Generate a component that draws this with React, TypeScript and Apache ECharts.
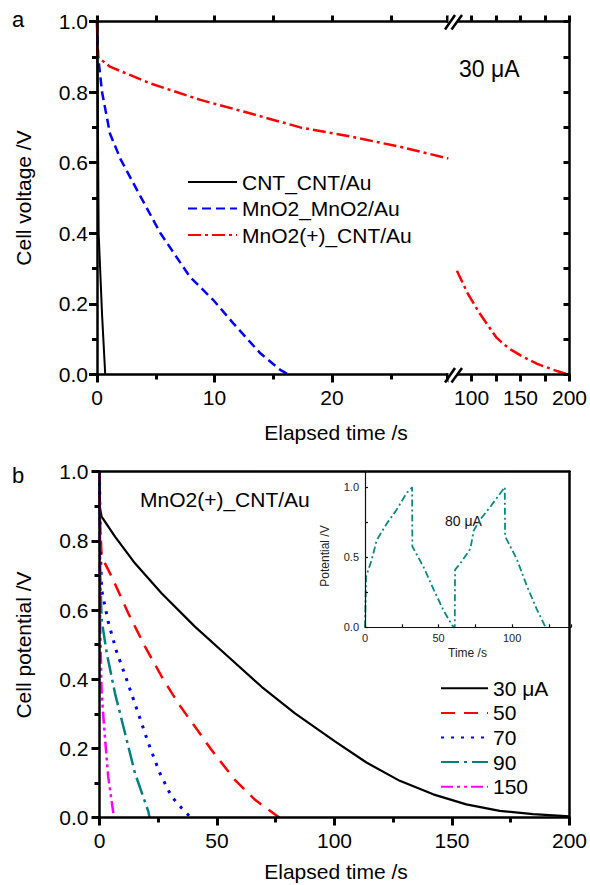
import React, { useEffect, useRef } from "react";
import * as echarts from "echarts";

const FONT = "'Liberation Sans', Arial, Helvetica, sans-serif";

// ---------- Panel a (30 uA) ----------
const aCntT = [0, 0.08, 0.14, 0.43, 0.7];
const aCntV = [1.0, 0.7, 0.4, 0.17, 0.0];
const aMnT = [0, 0.1, 0.43, 1.1, 2.0, 3.4, 5.4, 7.9, 9.9, 11.6, 13.9, 15.6, 16.3];
const aMnV = [1.0, 0.9, 0.8, 0.683, 0.61, 0.523, 0.4, 0.277, 0.211, 0.145, 0.06, 0.013, 0.0];
const aHybT1 = [0, 0.05, 1.1, 4.5, 8.8, 13.0, 17.3, 21.6, 25.8, 29.9];
const aHybV1 = [1.0, 0.9, 0.872, 0.825, 0.778, 0.74, 0.7, 0.674, 0.645, 0.612];
const aHybT2 = [85, 96, 108, 117, 125, 133, 141, 150, 159, 167, 176, 188, 199];
const aHybV2 = [0.294, 0.23, 0.174, 0.138, 0.106, 0.085, 0.069, 0.054, 0.041, 0.03, 0.021, 0.009, 0.0];
const aLegend = ["CNT_CNT/Au", "MnO2_MnO2/Au", "MnO2(+)_CNT/Au"];
const aRightLabels = [100, 150, 200];

// ---------- Panel b (MnO2(+)_CNT/Au) ----------
const b30T = [0, 0.1, 0.9, 6.6, 15.1, 26.5, 40.6, 54.8, 69, 83.2, 100.2, 113.6, 127.8, 142, 156.1, 170.3, 184.5, 200];
const b30V = [1.0, 0.899, 0.87, 0.812, 0.735, 0.648, 0.552, 0.465, 0.378, 0.301, 0.22, 0.159, 0.106, 0.067, 0.038, 0.019, 0.01, 0.003];
const b50T = [0, 0.2, 0.9, 5.2, 12.3, 19.4, 26.5, 33.5, 40.6, 47.7, 57.7, 66.2, 76.5];
const b50V = [1.0, 0.86, 0.754, 0.696, 0.59, 0.494, 0.407, 0.33, 0.263, 0.195, 0.108, 0.051, 0.0];
const b70T = [0, 0.3, 0.9, 3.7, 7.3, 11.6, 16.5, 20.8, 25.7, 30.7, 35, 38.8];
const b70V = [1.0, 0.8, 0.658, 0.566, 0.479, 0.398, 0.301, 0.215, 0.128, 0.06, 0.027, 0.0];
const b90T = [0, 0.3, 0.9, 3.1, 6.6, 10.9, 15.1, 20.8, 21.3];
const b90V = [1.0, 0.7, 0.571, 0.475, 0.359, 0.243, 0.128, 0.017, 0.0];
const b150T = [0, 0.3, 0.9, 2.3, 3.7, 5.9, 6.2];
const b150V = [1.0, 0.55, 0.359, 0.234, 0.118, 0.012, 0.0];
const bLegend = ["30 μA", "50", "70", "90", "150"];

// ---------- Inset (80 uA cycling) ----------
const inT = [0, 0.7, 4.5, 7.9, 14.8, 21.6, 28.4, 31.4, 32, 32.2, 39.8, 46.6, 53.4, 59.1, 60.5, 61, 61.2, 64.8, 71.6, 73.9, 78.4, 85.2, 94.3, 95, 95.2, 103.4, 110.2, 117.1, 122.7];
const inV = [0, 0.36, 0.48, 0.62, 0.74, 0.84, 0.96, 0.99, 1.0, 0.576, 0.43, 0.27, 0.12, 0.016, 0.0, 0.0, 0.41, 0.457, 0.56, 0.69, 0.77, 0.86, 0.99, 1.0, 0.65, 0.48, 0.29, 0.12, 0.0];

const zip = (t: number[], v: number[]) => t.map((x, i) => [x, v[i]]);

const AX = () => ({ color: "#000", width: 2.5 });
const TK = () => ({ color: "#000", width: 3 });

function buildOption(): any {
  const labelStyle = () => ({ fontSize: 21, color: "#000", fontFamily: FONT });
  const line = (name: string, xi: number, yi: number, data: number[][], color: string, width: number, type: any) => ({
    name,
    type: "line",
    xAxisIndex: xi,
    yAxisIndex: yi,
    data,
    clip: false,
    symbol: "none",
    showSymbol: false,
    lineStyle: { color, width, type },
    itemStyle: { color },
  });

  const yLeft = (gridIndex: number, margin: number) => ({
    type: "value",
    gridIndex,
    z: 20,
    position: "left",
    min: 0,
    max: 1,
    interval: 0.2,
    axisLine: { show: true, onZero: false, lineStyle: AX() },
    axisTick: { show: true, length: 8, lineStyle: TK() },
    minorTick: { show: true, splitNumber: 2, length: 5, lineStyle: TK() },
    axisLabel: { ...labelStyle(), margin, formatter: (v: number) => v.toFixed(1) },
    splitLine: { show: false },
  });

  const legendBase = {
    orient: "vertical",
    itemHeight: 14,
    padding: 0,
    selectedMode: false,
    itemStyle: { opacity: 0 },
    textStyle: { fontSize: 21, color: "#000", fontFamily: FONT, lineHeight: 21 },
  };

  const breakLine = (x1: number, y1: number, x2: number, y2: number) => ({
    type: "line",
    z: 100,
    shape: { x1, y1, x2, y2 },
    style: { stroke: "#000", lineWidth: 2.5 },
  });

  return {
    animation: false,
    grid: [
      { left: 97, top: 21.5, width: 352.5, height: 353 },
      { left: 447.1, top: 21.5, width: 123.9, height: 353 },
      { left: 99.5, top: 471.7, width: 471.5, height: 345.8 },
      { left: 365, top: 471.7, width: 206, height: 155.6 },
    ],
    xAxis: [
      {
        type: "value",
        gridIndex: 0,
        z: 20,
        min: 0,
        max: 30,
        interval: 10,
        axisLine: { show: true, onZero: false, lineStyle: AX() },
        axisTick: { show: true, length: 8, lineStyle: TK() },
        minorTick: { show: true, splitNumber: 2, length: 5, lineStyle: TK() },
        axisLabel: { ...labelStyle(), margin: 12, showMaxLabel: false },
        splitLine: { show: false },
      },
      {
        type: "value",
        gridIndex: 0,
        z: 20,
        position: "top",
        min: 0,
        max: 30,
        interval: 5,
        axisLine: { show: true, onZero: false, lineStyle: AX() },
        axisTick: { show: true, length: 6, lineStyle: TK() },
        axisLabel: { show: false },
        splitLine: { show: false },
      },
      {
        type: "value",
        gridIndex: 1,
        z: 20,
        min: 75,
        max: 200,
        interval: 25,
        axisLine: { show: true, onZero: false, lineStyle: AX() },
        axisTick: { show: true, length: 7, lineStyle: TK() },
        axisLabel: {
          ...labelStyle(),
          margin: 12,
          formatter: (v: number) => (aRightLabels.indexOf(v) >= 0 ? String(v) : ""),
        },
        splitLine: { show: false },
      },
      {
        type: "value",
        gridIndex: 1,
        z: 20,
        position: "top",
        min: 75,
        max: 200,
        interval: 25,
        axisLine: { show: true, onZero: false, lineStyle: AX() },
        axisTick: { show: true, length: 6, lineStyle: TK() },
        axisLabel: { show: false },
        splitLine: { show: false },
      },
      {
        type: "value",
        gridIndex: 2,
        z: 20,
        min: 0,
        max: 200,
        interval: 50,
        axisLine: { show: true, onZero: false, lineStyle: AX() },
        axisTick: { show: true, length: 8, lineStyle: TK() },
        minorTick: { show: true, splitNumber: 2, length: 5, lineStyle: TK() },
        axisLabel: { ...labelStyle(), margin: 12 },
        splitLine: { show: false },
      },
      {
        type: "value",
        gridIndex: 2,
        z: 20,
        position: "top",
        min: 0,
        max: 200,
        axisLine: { show: true, onZero: false, lineStyle: AX() },
        axisTick: { show: false },
        axisLabel: { show: false },
        splitLine: { show: false },
      },
      {
        type: "value",
        gridIndex: 3,
        z: 20,
        min: 0,
        max: 140,
        interval: 50,
        axisLine: { show: true, onZero: false, lineStyle: { color: "#111", width: 1.2 } },
        axisTick: { show: true, inside: true, length: 3, lineStyle: { color: "#111", width: 1.2 } },
        minorTick: { show: true, splitNumber: 2, length: 3, lineStyle: { color: "#111", width: 1.2 } },
        axisLabel: { fontSize: 11, color: "#222", fontFamily: FONT, margin: 5, showMaxLabel: false },
        splitLine: { show: false },
      },
    ],
    yAxis: [
      yLeft(0, 9),
      {
        type: "value",
        gridIndex: 1,
        z: 20,
        position: "right",
        min: 0,
        max: 1,
        interval: 0.1,
        axisLine: { show: true, onZero: false, lineStyle: AX() },
        axisTick: { show: true, inside: true, length: 6, lineStyle: TK() },
        axisLabel: { show: false },
        splitLine: { show: false },
      },
      yLeft(2, 11),
      {
        type: "value",
        gridIndex: 2,
        z: 20,
        position: "right",
        min: 0,
        max: 1,
        axisLine: { show: true, onZero: false, lineStyle: AX() },
        axisTick: { show: false },
        axisLabel: { show: false },
        splitLine: { show: false },
      },
      {
        type: "value",
        gridIndex: 3,
        z: 20,
        min: 0,
        max: 1.11,
        interval: 0.5,
        axisLine: { show: true, onZero: false, lineStyle: { color: "#111", width: 1.2 } },
        axisTick: { show: true, inside: true, length: 3, lineStyle: { color: "#111", width: 1.2 } },
        minorTick: { show: true, splitNumber: 2, length: 3, lineStyle: { color: "#111", width: 1.2 } },
        axisLabel: {
          fontSize: 11,
          color: "#222",
          fontFamily: FONT,
          margin: 6,
          showMaxLabel: false,
          formatter: (v: number) => v.toFixed(1),
        },
        splitLine: { show: false },
      },
    ],
    legend: [
      { ...legendBase, data: aLegend, left: 187, top: 171.5, itemWidth: 49, itemGap: 5.5 },
      { ...legendBase, data: bLegend, left: 440, top: 677.8, itemWidth: 47, itemGap: 3.6 },
    ],
    series: [
      line("CNT_CNT/Au", 0, 0, zip(aCntT, aCntV), "#000000", 2, "solid"),
      line("MnO2_MnO2/Au", 0, 0, zip(aMnT, aMnV), "#0000ff", 2.5, [9, 5]),
      line("MnO2(+)_CNT/Au", 0, 0, zip(aHybT1, aHybV1), "#ff0000", 2.5, [13, 4, 3, 4]),
      line("MnO2(+)_CNT/Au", 2, 1, zip(aHybT2, aHybV2), "#ff0000", 2.5, [13, 4, 3, 4]),
      line("30 μA", 4, 2, zip(b30T, b30V), "#000000", 2.2, "solid"),
      line("50", 4, 2, zip(b50T, b50V), "#ff0000", 2.5, [14, 9]),
      line("70", 4, 2, zip(b70T, b70V), "#0000ff", 3, [3, 7]),
      line("90", 4, 2, zip(b90T, b90V), "#008080", 2.5, [18, 5, 3, 5]),
      line("150", 4, 2, zip(b150T, b150V), "#ff00ff", 2.5, [12, 4, 3, 4, 3, 4]),
      line("80 μA", 6, 4, zip(inT, inV), "#0b8a84", 1.8, [7, 3, 2, 3]),
    ],
    graphic: [
      { type: "rect", z: 90, shape: { x: 448.5, y: 10, width: 8.5, height: 20 }, style: { fill: "#fff" } },
      { type: "rect", z: 90, shape: { x: 448.5, y: 366, width: 8.5, height: 20 }, style: { fill: "#fff" } },
      breakLine(445, 29.5, 455, 15),
      breakLine(451.5, 29.5, 462, 15),
      breakLine(445, 382.5, 455, 368),
      breakLine(451.5, 382.5, 462, 368),
      { type: "text", x: 12, y: 19, style: { text: "a", font: `22px ${FONT}`, fill: "#000", verticalAlign: "middle" } },
      { type: "text", x: 12, y: 475, style: { text: "b", font: `22px ${FONT}`, fill: "#000", verticalAlign: "middle" } },
      { type: "text", x: 459, y: 69, style: { text: "30 μA", font: `23px ${FONT}`, fill: "#000", verticalAlign: "middle" } },
      { type: "text", x: 140, y: 499, style: { text: "MnO2(+)_CNT/Au", font: `21px ${FONT}`, fill: "#000", verticalAlign: "middle" } },
      { type: "text", x: 445, y: 521, style: { text: "80 μA", font: `14px ${FONT}`, fill: "#111", verticalAlign: "middle" } },
      { type: "text", x: 23, y: 198, rotation: Math.PI / 2, style: { text: "Cell voltage /V", font: `21px ${FONT}`, fill: "#000", align: "center", verticalAlign: "middle" } },
      { type: "text", x: 336, y: 432, style: { text: "Elapsed time /s", font: `21px ${FONT}`, fill: "#000", align: "center", verticalAlign: "middle" } },
      { type: "text", x: 23, y: 645, rotation: Math.PI / 2, style: { text: "Cell potential /V", font: `21px ${FONT}`, fill: "#000", align: "center", verticalAlign: "middle" } },
      { type: "text", x: 336, y: 871, style: { text: "Elapsed time /s", font: `21px ${FONT}`, fill: "#000", align: "center", verticalAlign: "middle" } },
      { type: "text", x: 325, y: 556, rotation: Math.PI / 2, style: { text: "Potential /V", font: `12px ${FONT}`, fill: "#222", align: "center", verticalAlign: "middle" } },
      { type: "text", x: 467.5, y: 653, style: { text: "Time /s", font: `12px ${FONT}`, fill: "#222", align: "center", verticalAlign: "middle" } },
    ],
  };
}

export default function App() {
  const ref = useRef<HTMLDivElement>(null);
  useEffect(() => {
    if (!ref.current) return;
    const chart = echarts.init(ref.current, undefined, { renderer: "svg" });
    chart.setOption(buildOption());
    return () => chart.dispose();
  }, []);
  return (
    <div
      ref={ref}
      style={{ position: "fixed", left: 0, top: 0, width: 590, height: 885, background: "#fff" }}
    />
  );
}
